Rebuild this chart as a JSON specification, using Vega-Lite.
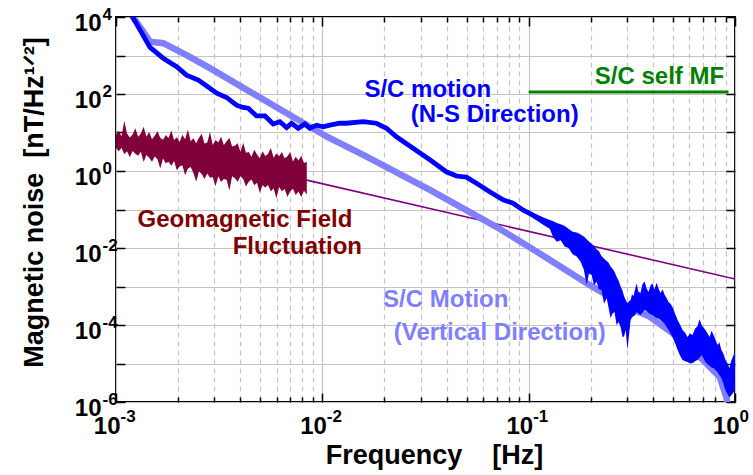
{
"$schema": "https://vega.github.io/schema/vega-lite/v6.json",
"width": 619, "height": 385,
"autosize": "none",
"padding": {"left": 116, "top": 17, "right": 18, "bottom": 73},
"background": "white",
"config": {
  "view": {"stroke": "black", "strokeWidth": 2},
  "axis": {"domain": false, "labelFont": "Liberation Sans", "labelFontWeight": "bold", "labelFontSize": 24, "labelColor": "black", "tickColor": "black", "tickWidth": 1.5, "gridColor": "#c4c4c4", "gridWidth": 1.2, "titleFont": "Liberation Sans", "titleFontWeight": "bold", "titleFontSize": 27, "titleColor": "black", "labelOverlap": false},
  "text": {"font": "Liberation Sans", "fontWeight": "bold", "fontSize": 24}
},
"datasets": {
  "geo": [
    {"f":0.001000,"hi":8.71,"lo":3.98},{"f":0.001031,"hi":10.9,"lo":3.28},{"f":0.001064,"hi":7.98,"lo":3.99},{"f":0.001097,"hi":20.3,"lo":2.74},
    {"f":0.001131,"hi":9.40,"lo":3.25},{"f":0.001167,"hi":7.40,"lo":2.28},{"f":0.001203,"hi":8.81,"lo":3.33},{"f":0.001241,"hi":12.9,"lo":2.81},
    {"f":0.001280,"hi":7.71,"lo":2.48},{"f":0.001320,"hi":9.40,"lo":3.16},{"f":0.001361,"hi":14.1,"lo":1.71},{"f":0.001404,"hi":7.76,"lo":2.59},
    {"f":0.001448,"hi":10.3,"lo":2.21},{"f":0.001494,"hi":6.68,"lo":1.75},{"f":0.001540,"hi":8.28,"lo":2.37},{"f":0.001589,"hi":10.7,"lo":2.01},
    {"f":0.001638,"hi":7.29,"lo":1.16},{"f":0.001690,"hi":6.53,"lo":2.10},{"f":0.001743,"hi":8.67,"lo":1.60},{"f":0.001797,"hi":7.24,"lo":1.75},
    {"f":0.001854,"hi":11.3,"lo":1.36},{"f":0.001912,"hi":6.38,"lo":1.83},{"f":0.001972,"hi":7.53,"lo":1.05},{"f":0.002033,"hi":5.64,"lo":1.31},
    {"f":0.002097,"hi":8.79,"lo":1.40},{"f":0.002163,"hi":6.71,"lo":0.778},{"f":0.002231,"hi":12.0,"lo":1.17},{"f":0.002301,"hi":5.94,"lo":1.27},
    {"f":0.002373,"hi":7.14,"lo":0.891},{"f":0.002447,"hi":5.24,"lo":0.528},{"f":0.002523,"hi":7.31,"lo":0.991},{"f":0.002603,"hi":9.31,"lo":0.830},
    {"f":0.002684,"hi":5.18,"lo":0.619},{"f":0.002768,"hi":5.48,"lo":0.863},{"f":0.002855,"hi":10.3,"lo":0.664},{"f":0.002944,"hi":4.72,"lo":0.697},
    {"f":0.003037,"hi":6.35,"lo":0.402},{"f":0.003132,"hi":5.53,"lo":0.731},{"f":0.003230,"hi":7.80,"lo":0.519},{"f":0.003331,"hi":4.72,"lo":0.622},
    {"f":0.003436,"hi":5.82,"lo":0.594},{"f":0.003543,"hi":7.35,"lo":0.312},{"f":0.003655,"hi":4.34,"lo":0.731},{"f":0.003769,"hi":4.55,"lo":0.652},
    {"f":0.003887,"hi":5.25,"lo":0.527},{"f":0.004009,"hi":3.15,"lo":0.736},{"f":0.004135,"hi":5.44,"lo":0.619},{"f":0.004264,"hi":2.98,"lo":0.395},
    {"f":0.004398,"hi":3.10,"lo":0.528},{"f":0.004536,"hi":2.34,"lo":0.601},{"f":0.004677,"hi":3.55,"lo":0.424},{"f":0.004824,"hi":2.69,"lo":0.497},
    {"f":0.004975,"hi":2.14,"lo":0.272},{"f":0.005131,"hi":3.24,"lo":0.429},{"f":0.005292,"hi":2.45,"lo":0.372},{"f":0.005458,"hi":2.80,"lo":0.432},
    {"f":0.005629,"hi":3.98,"lo":0.292},{"f":0.005805,"hi":2.20,"lo":0.359},{"f":0.005987,"hi":2.86,"lo":0.197},{"f":0.006174,"hi":2.40,"lo":0.385},
    {"f":0.006368,"hi":3.11,"lo":0.299},{"f":0.006568,"hi":2.14,"lo":0.343},{"f":0.006773,"hi":2.42,"lo":0.210},{"f":0.006986,"hi":3.13,"lo":0.299},
    {"f":0.007204,"hi":1.77,"lo":0.344},{"f":0.007430,"hi":2.35,"lo":0.238},{"f":0.007663,"hi":1.87,"lo":0.294},{"f":0.007903,"hi":2.49,"lo":0.210},
    {"f":0.008151,"hi":1.61,"lo":0.308},{"f":0.008406,"hi":1.74,"lo":0.245}
  ],
  "purple": [{"f":0.0083,"y":0.589},{"f":1.0,"y":0.00157}],
  "green": [{"f":0.1,"y":112},{"f":0.93,"y":112}],
  "vert": [
    {"f":0.001175,"y":12600},{"f":0.001462,"y":2291},{"f":0.001694,"y":2089},{"f":0.002198,"y":1023},{"f":0.002851,"y":468},
    {"f":0.01052,"y":7.76},{"f":0.01578,"y":2.63},{"f":0.03319,"y":0.324},{"f":0.06966,"y":0.0355},{"f":0.1130,"y":0.00724},
    {"f":0.1972,"y":0.0011},{"f":0.2972,"y":0.000302},{"f":0.3855,"y":0.000166},{"f":0.5000,"y":0.0000603},{"f":0.6730,"y":0.0000151},
    {"f":0.8414,"y":0.00000457},{"f":0.9057,"y":0.00000138},{"f":0.9397,"y":0.00000063}
  ],
  "ns": [
    {"f":0.001175,"y":12600},{"f":0.001462,"y":1622},{"f":0.001694,"y":851},{"f":0.001968,"y":513},{"f":0.002198,"y":309},
    {"f":0.002506,"y":229},{"f":0.002851,"y":141},{"f":0.003076,"y":105},{"f":0.003436,"y":81.3},{"f":0.003837,"y":51.3},
    {"f":0.004130,"y":44.7},{"f":0.004375,"y":42.7},{"f":0.004797,"y":26.9},{"f":0.005272,"y":26.9},{"f":0.005781,"y":16.6},
    {"f":0.006223,"y":19.1},{"f":0.006714,"y":13.5},{"f":0.007096,"y":17.4},{"f":0.007638,"y":12.9},{"f":0.008222,"y":16.6},
    {"f":0.008690,"y":12.9},{"f":0.009376,"y":15.5},{"f":0.01009,"y":14.1},{"f":0.01086,"y":15.5},{"f":0.01216,"y":17.4},
    {"f":0.01309,"y":17.4},{"f":0.01578,"y":19.1},{"f":0.01828,"y":17.4},{"f":0.02046,"y":12.9},{"f":0.02286,"y":7.76},
    {"f":0.02754,"y":3.89},{"f":0.03319,"y":1.95},{"f":0.03990,"y":0.955},{"f":0.04467,"y":0.741},{"f":0.04989,"y":0.692},
    {"f":0.05585,"y":0.479},{"f":0.06471,"y":0.288},{"f":0.07516,"y":0.178},{"f":0.08395,"y":0.145},{"f":0.09376,"y":0.0977},
    {"f":0.1089,"y":0.0646},{"f":0.1265,"y":0.0417},{"f":0.1462,"y":0.0275},{"f":0.1633,"y":0.0162}
  ],
  "nsband": [
    {"f":0.1000,"hi":0.0912,"lo":0.0724},{"f":0.1089,"hi":0.0741,"lo":0.0525},{"f":0.1180,"hi":0.0620,"lo":0.0398},
    {"f":0.1265,"hi":0.0531,"lo":0.0316},{"f":0.1310,"hi":0.0501,"lo":0.0200},{"f":0.1368,"hi":0.0447,"lo":0.01445},{"f":0.1430,"hi":0.0417,"lo":0.0158},
    {"f":0.1493,"hi":0.0372,"lo":0.0110},{"f":0.1560,"hi":0.0316,"lo":0.0100},{"f":0.1633,"hi":0.0263,"lo":0.00692},{"f":0.1710,"hi":0.0251,"lo":0.00603},
    {"f":0.1786,"hi":0.0224,"lo":0.00437},{"f":0.1850,"hi":0.0200,"lo":0.00275},{"f":0.1910,"hi":0.0170,"lo":0.0011},{"f":0.1960,"hi":0.0148,"lo":0.00219},
    {"f":0.2018,"hi":0.0129,"lo":0.00200},{"f":0.2075,"hi":0.0112,"lo":0.00107},{"f":0.2133,"hi":0.00933,"lo":0.00132},{"f":0.2190,"hi":0.00832,"lo":0.000851},
    {"f":0.2254,"hi":0.00617,"lo":0.000813},{"f":0.2320,"hi":0.00525,"lo":0.000355},{"f":0.2388,"hi":0.00457,"lo":0.000501},{"f":0.2440,"hi":0.00417,"lo":0.000282},
    {"f":0.2495,"hi":0.00331,"lo":0.000151},{"f":0.2550,"hi":0.00290,"lo":0.000200},{"f":0.2606,"hi":0.00240,"lo":0.000219},{"f":0.2668,"hi":0.00178,"lo":0.000100},
    {"f":0.2729,"hi":0.00141,"lo":0.00012},{"f":0.2790,"hi":0.00100,"lo":0.0000891},{"f":0.2851,"hi":0.000776,"lo":0.000049},{"f":0.2900,"hi":0.000562,"lo":0.0000501},
    {"f":0.2951,"hi":0.000447,"lo":0.0000741},{"f":0.3013,"hi":0.000372,"lo":0.0000229},{"f":0.3065,"hi":0.000417,"lo":0.0000562},
    {"f":0.3119,"hi":0.000447,"lo":0.000135},{"f":0.3170,"hi":0.000631,"lo":0.000158},{"f":0.3221,"hi":0.000562,"lo":0.00017},{"f":0.3280,"hi":0.000851,"lo":0.000178},
    {"f":0.3334,"hi":0.00120,"lo":0.000219},{"f":0.3400,"hi":0.000741,"lo":0.000200},{"f":0.3483,"hi":0.000676,"lo":0.000182},{"f":0.3560,"hi":0.00115,"lo":0.000209},
    {"f":0.3648,"hi":0.00135,"lo":0.000245},{"f":0.3730,"hi":0.000891,"lo":0.000229},{"f":0.3811,"hi":0.000724,"lo":0.000204},{"f":0.3900,"hi":0.00107,"lo":0.000191},
    {"f":0.3981,"hi":0.00120,"lo":0.000182},{"f":0.4070,"hi":0.000832,"lo":0.000166},{"f":0.4169,"hi":0.00126,"lo":0.000151},{"f":0.4260,"hi":0.000891,"lo":0.000148},
    {"f":0.4355,"hi":0.000676,"lo":0.000135},{"f":0.4460,"hi":0.000851,"lo":0.000120},{"f":0.4560,"hi":0.000603,"lo":0.000107},{"f":0.4660,"hi":0.000501,"lo":0.0000891},
    {"f":0.4764,"hi":0.000398,"lo":0.0000741},{"f":0.4870,"hi":0.000355,"lo":0.0000603},{"f":0.4977,"hi":0.000295,"lo":0.000049},{"f":0.5120,"hi":0.000200,"lo":0.0000339},
    {"f":0.5272,"hi":0.000135,"lo":0.0000224},{"f":0.5420,"hi":0.000102,"lo":0.0000158},{"f":0.5572,"hi":0.0000741,"lo":0.0000123},{"f":0.5730,"hi":0.0000631,"lo":0.0000115},
    {"f":0.5888,"hi":0.000049,"lo":0.000011},{"f":0.6050,"hi":0.0000603,"lo":0.0000102},{"f":0.6223,"hi":0.000055,"lo":0.0000102},{"f":0.6400,"hi":0.0000794,"lo":0.0000115},
    {"f":0.6577,"hi":0.0000933,"lo":0.0000123},{"f":0.6730,"hi":0.000141,"lo":0.0000141},{"f":0.6887,"hi":0.00010,"lo":0.0000166},{"f":0.7040,"hi":0.0000851,"lo":0.0000135},
    {"f":0.7194,"hi":0.0000741,"lo":0.000011},{"f":0.7360,"hi":0.0000603,"lo":0.0000095},{"f":0.7534,"hi":0.000049,"lo":0.0000087},{"f":0.7700,"hi":0.0000708,"lo":0.0000079},
    {"f":0.7870,"hi":0.000055,"lo":0.0000076},{"f":0.8050,"hi":0.0000417,"lo":0.0000068},{"f":0.8222,"hi":0.0000302,"lo":0.000006},{"f":0.8400,"hi":0.0000355,"lo":0.0000050},
    {"f":0.8590,"hi":0.0000224,"lo":0.0000042},{"f":0.8790,"hi":0.0000178,"lo":0.0000030},{"f":0.8995,"hi":0.0000123,"lo":0.000002},{"f":0.9200,"hi":0.0000100,"lo":0.0000016},
    {"f":0.9397,"hi":0.0000076,"lo":0.0000013},{"f":0.9600,"hi":0.0000120,"lo":0.0000015},{"f":0.9840,"hi":0.0000166,"lo":0.0000018},{"f":1.0,"hi":0.00002,"lo":0.0000023}
  ],
  "labels": [
    {"t":"S/C motion","f":0.03243,"y":83.6,"c":"#0000ff"},
    {"t":"(N-S Direction)","f":0.0684,"y":18.7,"c":"#0000ff"},
    {"t":"S/C self MF","f":0.4305,"y":182,"c":"#008000"},
    {"t":"Geomagnetic Field","f":0.004217,"y":0.0351,"c":"#800000"},
    {"t":"Fluctuation","f":0.007568,"y":0.00698,"c":"#800000"},
    {"t":"S/C Motion","f":0.03963,"y":0.000294,"c":"#8080ff"},
    {"t":"(Vertical Direction)","f":0.07244,"y":0.0000407,"c":"#8080ff"}
  ]
},
"resolve": {"scale": {"x": "shared", "y": "shared"}, "axis": {"x": "independent", "y": "independent"}},
"layer": [
  {
    "data": {"name": "geo"},
    "mark": {"type": "area", "color": "#80003a", "clip": true},
    "encoding": {
      "x": {"field": "f", "type": "quantitative", "scale": {"type": "log", "domain": [0.001, 1], "nice": false},
            "axis": {"orient": "bottom", "values": [0.001, 0.01, 0.1, 1], "grid": true, "tickSize": -9, "labelPadding": 40, "labelAlign": "right", "labelOffset": 4, "labelBaseline": "alphabetic",
                     "labelExpr": "'10'",
                     "title": "Frequency\u00a0\u00a0\u00a0\u00a0[Hz]", "titleX": 318, "titleY": 61, "titleBaseline": "alphabetic", "titleAlign": "center"}},
      "y": {"field": "hi", "type": "quantitative", "scale": {"type": "log", "domain": [0.000001, 10000], "nice": false},
            "axis": {"orient": "left", "values": [0.000001, 0.00001, 0.0001, 0.001, 0.01, 0.1, 1, 10, 100, 1000, 10000], "grid": true, "tickSize": -9, "labelPadding": 24, "labelAlign": "right", "labelBaseline": "alphabetic", "labelOffset": 13,
                     "labelExpr": "(datum.value == 1e-6 || datum.value == 1e-4 || datum.value == 0.01 || datum.value == 1 || datum.value == 100 || datum.value == 10000) ? '10' : ''",
                     "title": "Magnetic noise\u00a0\u00a0[nT/Hz¹ᐟ²]", "titleX": -74, "titleY": 185, "titleAngle": 270, "titleBaseline": "alphabetic", "titleAlign": "center"}},
      "y2": {"field": "lo"}
    }
  },
  {
    "data": {"name": "purple"},
    "mark": {"type": "line", "color": "#800080", "strokeWidth": 1.6, "clip": true},
    "encoding": {
      "x": {"field": "f", "type": "quantitative", "scale": {"type": "log", "domain": [0.001, 1], "nice": false},
            "axis": {"orient": "bottom", "values": [0.001, 0.01, 0.1, 1], "grid": false, "ticks": false, "tickSize": 0, "labelPadding": 19, "labelAlign": "left", "labelOffset": 4, "labelBaseline": "alphabetic", "labelFontSize": 17,
                     "labelExpr": "datum.value == 0.001 ? '-3' : datum.value == 0.01 ? '-2' : datum.value == 0.1 ? '-1' : '0'", "title": null}},
      "y": {"field": "y", "type": "quantitative", "scale": {"type": "log", "domain": [0.000001, 10000], "nice": false},
            "axis": {"orient": "left", "values": [0.000001, 0.0001, 0.01, 1, 100, 10000], "grid": false, "ticks": false, "tickSize": 0, "labelPadding": 14, "labelAlign": "left", "labelBaseline": "alphabetic", "labelOffset": 2, "labelFontSize": 17,
                     "labelExpr": "datum.value == 1e-6 ? '-6' : datum.value == 1e-4 ? '-4' : datum.value == 0.01 ? '-2' : datum.value == 1 ? '0' : datum.value == 100 ? '2' : '4'", "title": null}}
    }
  },
  {
    "data": {"name": "vert"},
    "mark": {"type": "line", "color": "#8080ff", "strokeWidth": 6.5, "clip": true},
    "encoding": {
      "x": {"field": "f", "type": "quantitative", "scale": {"type": "log", "domain": [0.001, 1], "nice": false},
            "axis": {"orient": "bottom", "values": [0.002,0.003,0.004,0.005,0.006,0.007,0.008,0.009,0.02,0.03,0.04,0.05,0.06,0.07,0.08,0.09,0.2,0.3,0.4,0.5,0.6,0.7,0.8,0.9], "grid": true, "gridDash": [5, 4], "tickSize": -5, "labels": false, "title": null}},
      "y": {"field": "y", "type": "quantitative", "scale": {"type": "log", "domain": [0.000001, 10000], "nice": false},
            "axis": {"orient": "right", "values": [0.000001, 0.00001, 0.0001, 0.001, 0.01, 0.1, 1, 10, 100, 1000, 10000], "grid": false, "tickSize": -9, "labels": false, "title": null}}
    }
  },
  {
    "data": {"name": "ns"},
    "mark": {"type": "line", "color": "#0000ff", "strokeWidth": 4.8, "clip": true},
    "encoding": {
      "x": {"field": "f", "type": "quantitative", "scale": {"type": "log", "domain": [0.001, 1], "nice": false},
            "axis": {"orient": "top", "values": [0.001, 0.01, 0.1, 1], "grid": false, "tickSize": -9, "labels": false, "title": null}},
      "y": {"field": "y", "type": "quantitative", "scale": {"type": "log", "domain": [0.000001, 10000], "nice": false}, "axis": null}
    }
  },
  {
    "data": {"name": "nsband"},
    "mark": {"type": "area", "color": "#0000ff", "clip": true},
    "encoding": {
      "x": {"field": "f", "type": "quantitative", "scale": {"type": "log", "domain": [0.001, 1], "nice": false},
            "axis": {"orient": "top", "values": [0.002,0.003,0.004,0.005,0.006,0.007,0.008,0.009,0.02,0.03,0.04,0.05,0.06,0.07,0.08,0.09,0.2,0.3,0.4,0.5,0.6,0.7,0.8,0.9], "grid": false, "tickSize": -5, "labels": false, "title": null}},
      "y": {"field": "hi", "type": "quantitative", "scale": {"type": "log", "domain": [0.000001, 10000], "nice": false}, "axis": null},
      "y2": {"field": "lo"}
    }
  },
  {
    "data": {"name": "green"},
    "mark": {"type": "line", "color": "#008000", "strokeWidth": 3, "clip": true},
    "encoding": {
      "x": {"field": "f", "type": "quantitative", "scale": {"type": "log", "domain": [0.001, 1], "nice": false}, "axis": null},
      "y": {"field": "y", "type": "quantitative", "scale": {"type": "log", "domain": [0.000001, 10000], "nice": false}, "axis": null}
    }
  },
  {
    "data": {"name": "labels"},
    "mark": {"type": "text", "align": "center", "baseline": "alphabetic"},
    "encoding": {
      "x": {"field": "f", "type": "quantitative", "scale": {"type": "log", "domain": [0.001, 1], "nice": false}, "axis": null},
      "y": {"field": "y", "type": "quantitative", "scale": {"type": "log", "domain": [0.000001, 10000], "nice": false}, "axis": null},
      "text": {"field": "t"},
      "color": {"field": "c", "type": "nominal", "scale": null}
    }
  }
]
}
